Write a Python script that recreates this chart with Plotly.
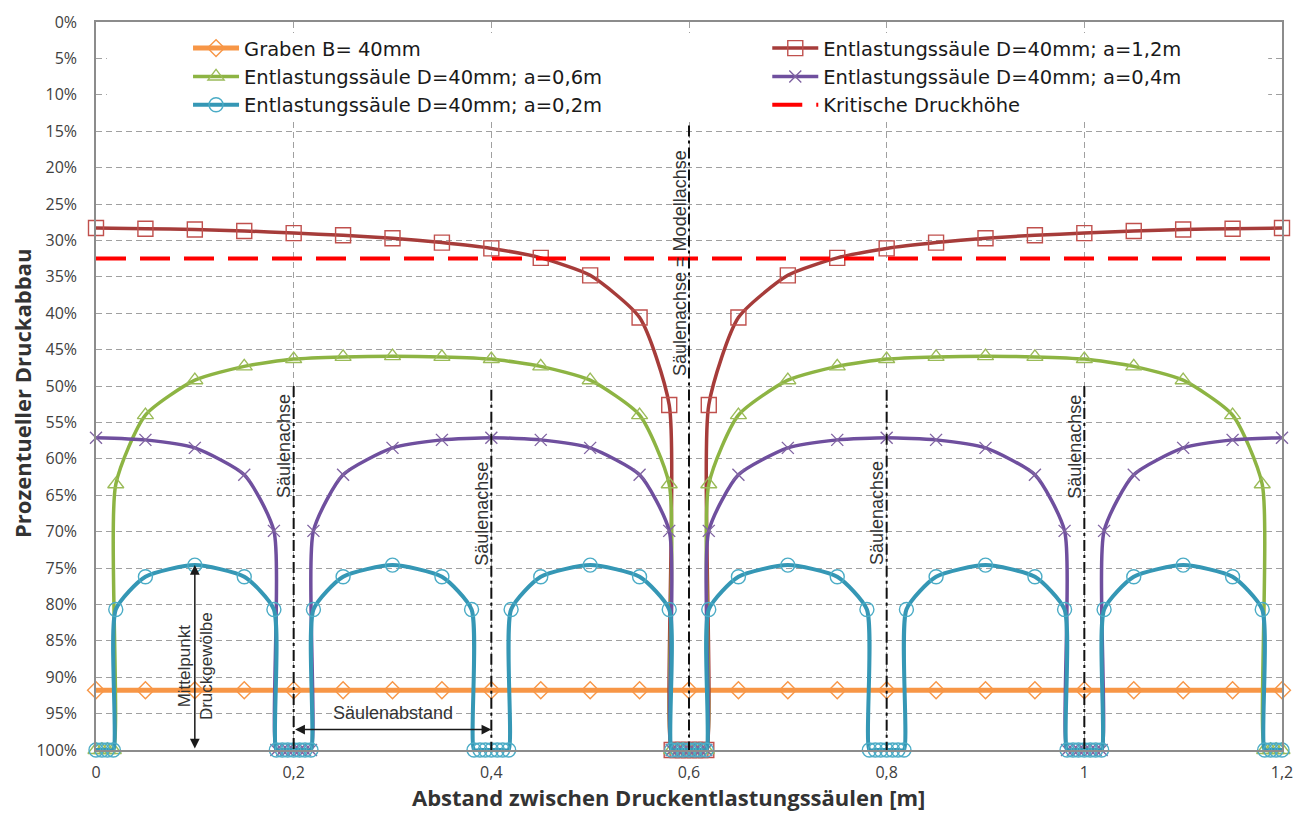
import plotly.graph_objects as go

# Abstand [m] und prozentueller Druckabbau [%] je Messreihe
graben_x = [0, 0.05, 0.1, 0.15, 0.2, 0.25, 0.3, 0.35, 0.4, 0.45, 0.5, 0.55, 0.6,
            0.65, 0.7, 0.75, 0.8, 0.85, 0.9, 0.95, 1.0, 1.05, 1.1, 1.15, 1.2]
graben_y = [91.8, 91.8, 91.8, 91.8, 91.8, 91.8, 91.8, 91.8, 91.8, 91.8, 91.8, 91.8, 91.8,
            91.8, 91.8, 91.8, 91.8, 91.8, 91.8, 91.8, 91.8, 91.8, 91.8, 91.8, 91.8]

a12_x = [0, 0.05, 0.1, 0.15, 0.2, 0.25, 0.3, 0.35, 0.4, 0.45, 0.5, 0.55, 0.58,
         0.5825, 0.5885, 0.594, 0.6, 0.606, 0.6115, 0.6175,
         0.62, 0.65, 0.7, 0.75, 0.8, 0.85, 0.9, 0.95, 1.0, 1.05, 1.1, 1.15, 1.2]
a12_y = [28.3, 28.4, 28.5, 28.7, 29.0, 29.3, 29.7, 30.3, 31.1, 32.4, 34.8, 40.6, 52.6,
         100, 100, 100, 100, 100, 100, 100,
         52.6, 40.6, 34.8, 32.4, 31.1, 30.3, 29.7, 29.3, 29.0, 28.7, 28.5, 28.4, 28.3]

a06_x = [0, 0.006, 0.0115, 0.0175,
         0.02, 0.05, 0.1, 0.15, 0.2, 0.25, 0.3, 0.35, 0.4, 0.45, 0.5, 0.55, 0.58,
         0.5825, 0.5885, 0.594, 0.6, 0.606, 0.6115, 0.6175,
         0.62, 0.65, 0.7, 0.75, 0.8, 0.85, 0.9, 0.95, 1.0, 1.05, 1.1, 1.15, 1.18,
         1.1825, 1.1885, 1.194, 1.2]
a06_y = [100, 100, 100, 100,
         63.5, 54.0, 49.2, 47.3, 46.3, 46.0, 45.9, 46.0, 46.3, 47.3, 49.2, 54.0, 63.5,
         100, 100, 100, 100, 100, 100, 100,
         63.5, 54.0, 49.2, 47.3, 46.3, 46.0, 45.9, 46.0, 46.3, 47.3, 49.2, 54.0, 63.5,
         100, 100, 100, 100]

a04_x = [0, 0.05, 0.1, 0.15, 0.18,
         0.1825, 0.1885, 0.194, 0.2, 0.206, 0.2115, 0.2175,
         0.22, 0.25, 0.3, 0.35, 0.4, 0.45, 0.5, 0.55, 0.58,
         0.5825, 0.5885, 0.594, 0.6, 0.606, 0.6115, 0.6175,
         0.62, 0.65, 0.7, 0.75, 0.8, 0.85, 0.9, 0.95, 0.98,
         0.9825, 0.9885, 0.994, 1.0, 1.006, 1.0115, 1.0175,
         1.02, 1.05, 1.1, 1.15, 1.2]
a04_y = [57.1, 57.4, 58.5, 62.2, 69.9,
         100, 100, 100, 100, 100, 100, 100,
         69.9, 62.2, 58.5, 57.4, 57.1, 57.4, 58.5, 62.2, 69.9,
         100, 100, 100, 100, 100, 100, 100,
         69.9, 62.2, 58.5, 57.4, 57.1, 57.4, 58.5, 62.2, 69.9,
         100, 100, 100, 100, 100, 100, 100,
         69.9, 62.2, 58.5, 57.4, 57.1]

a02_x = [0, 0.006, 0.0115, 0.0175,
         0.02, 0.05, 0.1, 0.15, 0.18,
         0.1825, 0.1885, 0.194, 0.2, 0.206, 0.2115, 0.2175,
         0.22, 0.25, 0.3, 0.35, 0.38,
         0.3825, 0.3885, 0.394, 0.4, 0.406, 0.4115, 0.4175,
         0.42, 0.45, 0.5, 0.55, 0.58,
         0.5825, 0.5885, 0.594, 0.6, 0.606, 0.6115, 0.6175,
         0.62, 0.65, 0.7, 0.75, 0.78,
         0.7825, 0.7885, 0.794, 0.8, 0.806, 0.8115, 0.8175,
         0.82, 0.85, 0.9, 0.95, 0.98,
         0.9825, 0.9885, 0.994, 1.0, 1.006, 1.0115, 1.0175,
         1.02, 1.05, 1.1, 1.15, 1.18,
         1.1825, 1.1885, 1.194, 1.2]
a02_y = [100, 100, 100, 100,
         80.7, 76.2, 74.6, 76.2, 80.7,
         100, 100, 100, 100, 100, 100, 100,
         80.7, 76.2, 74.6, 76.2, 80.7,
         100, 100, 100, 100, 100, 100, 100,
         80.7, 76.2, 74.6, 76.2, 80.7,
         100, 100, 100, 100, 100, 100, 100,
         80.7, 76.2, 74.6, 76.2, 80.7,
         100, 100, 100, 100, 100, 100, 100,
         80.7, 76.2, 74.6, 76.2, 80.7,
         100, 100, 100, 100, 100, 100, 100,
         80.7, 76.2, 74.6, 76.2, 80.7,
         100, 100, 100, 100]

kritisch_x = [0, 1.2]
kritisch_y = [32.5, 32.5]

# Lage der Säulenachsen und Beschriftungshöhen
saeulen_x = [0.2, 0.4, 0.6, 0.8, 1.0]
achse_von = [50.0, 50.5, 14.2, 50.5, 50.0]
achse_text = ["Säulenachse", "Säulenachse", "Säulenachse = Modellachse", "Säulenachse", "Säulenachse"]
achse_text_y = [58.3, 67.5, 33.1, 67.5, 58.3]

x_ticks = [0, 0.2, 0.4, 0.6, 0.8, 1.0, 1.2]
x_ticktext = ["0", "0,2", "0,4", "0,6", "0,8", "1", "1,2"]

names = ["Graben B= 40mm",
         "Entlastungssäule D=40mm; a=1,2m",
         "Entlastungssäule D=40mm; a=0,6m",
         "Entlastungssäule D=40mm; a=0,4m",
         "Entlastungssäule D=40mm; a=0,2m",
         "Kritische Druckhöhe"]

fig = go.Figure()

# linke Legendenspalte: legend, rechte Spalte: legend2
series = [
    (graben_x, graben_y, names[0], "#F79646", "#F79646", "diamond-open", 13, 5, "legend"),
    (a12_x, a12_y, names[1], "#A63C3A", "#C0504D", "square-open", 15, 3.5, "legend2"),
    (a06_x, a06_y, names[2], "#8DB443", "#9BBB59", "triangle-up-open", 14, 3.5, "legend"),
    (a04_x, a04_y, names[3], "#6F4F9E", "#8064A2", "x-thin-open", 12, 3.5, "legend2"),
    (a02_x, a02_y, names[4], "#3597B5", "#4BACC6", "circle-open", 14, 4, "legend"),
]
for xs, ys, nm, lc, mc, sym, ms, lw, lg in series:
    fig.add_trace(go.Scatter(
        x=xs, y=ys, name=nm, mode="lines+markers", legend=lg,
        line=dict(color=lc, width=lw, shape="spline", smoothing=0.6),
        marker=dict(symbol=sym, size=ms, color=mc, line=dict(color=mc, width=1.4)),
        cliponaxis=False,
    ))

fig.add_trace(go.Scatter(
    x=kritisch_x, y=kritisch_y, name=names[5], mode="lines", legend="legend2",
    line=dict(color="#FF0000", width=4, dash="30px,14px"),
))

# weiße Fläche hinter der Legende
fig.add_shape(type="rect", xref="x", yref="y", x0=0.011, x1=1.186, y0=1.5, y1=13.4,
              fillcolor="white", line=dict(width=0), layer="between")

# Säulenachsen als Strich-Punkt-Linien
for sx, y0 in zip(saeulen_x, achse_von):
    fig.add_shape(type="line", xref="x", yref="y", x0=sx, x1=sx, y0=y0, y1=100,
                  line=dict(color="#111111", width=2, dash="11px,4px,3px,4px"))

annotations = []
for sx, txt, ty in zip(saeulen_x, achse_text, achse_text_y):
    annotations.append(dict(x=sx, y=ty, xref="x", yref="y", text=txt, showarrow=False,
                            textangle=-90, xanchor="center", yanchor="middle", xshift=-9,
                            font=dict(family="Liberation Sans", size=18, color="#333333")))

# Maßpfeil Mittelpunkt Druckgewölbe
scheitel = min(a02_y)
annotations.append(dict(x=0.1, y=scheitel, ax=0.1, ay=100, xref="x", yref="y", axref="x", ayref="y",
                        text="", showarrow=True, arrowhead=2, startarrowhead=2, arrowside="end+start",
                        arrowsize=1.3, startarrowsize=1.3, arrowwidth=1.5, arrowcolor="#1a1a1a"))
annotations.append(dict(x=0.1, y=88.5, xref="x", yref="y", text="Mittelpunkt<br>Druckgewölbe",
                        showarrow=False, textangle=-90,
                        font=dict(family="Liberation Sans", size=17, color="#333333")))

# Maßpfeil Säulenabstand
annotations.append(dict(x=saeulen_x[1], y=97.2, ax=saeulen_x[0], ay=97.2, xref="x", yref="y",
                        axref="x", ayref="y", text="", showarrow=True, arrowhead=2, startarrowhead=2,
                        arrowside="end+start", arrowsize=1.3, startarrowsize=1.3, arrowwidth=1.5,
                        arrowcolor="#1a1a1a"))
annotations.append(dict(x=0.3, y=94.9, xref="x", yref="y", text="Säulenabstand", showarrow=False,
                        font=dict(family="Liberation Sans", size=18, color="#333333")))

# Achsentitel
annotations.append(dict(x=0.4831, y=-0.0652, xref="paper", yref="paper", showarrow=False,
                        xanchor="center", yanchor="middle",
                        text="<b>Abstand zwischen Druckentlastungssäulen [m]</b>",
                        font=dict(family="Open Sans", size=22, color="#333333")))
annotations.append(dict(x=-0.0624, y=0.4904, xref="paper", yref="paper", showarrow=False,
                        xanchor="center", yanchor="middle", textangle=-90,
                        text="<b>Prozentueller Druckabbau</b>",
                        font=dict(family="Open Sans", size=22, color="#333333")))

legend_font = dict(family="DejaVu Sans", size=19.5, color="#1a1a1a")
fig.update_layout(
    width=1306, height=813,
    margin=dict(l=96, r=24, t=22, b=63),
    paper_bgcolor="white", plot_bgcolor="white",
    annotations=annotations,
    showlegend=True,
    legend=dict(x=0.0776, y=0.9905, xanchor="left", yanchor="top", bgcolor="rgba(0,0,0,0)",
                font=legend_font, itemwidth=46, tracegroupgap=0),
    legend2=dict(x=0.566, y=0.9905, xanchor="left", yanchor="top", bgcolor="rgba(0,0,0,0)",
                 font=legend_font, itemwidth=46, tracegroupgap=0),
    xaxis=dict(range=[0, 1.2], tickmode="array", tickvals=x_ticks, ticktext=x_ticktext,
               showgrid=True, gridcolor="#A0A0A0", griddash="6px,4px", gridwidth=1,
               showline=True, linecolor="#8C8C8C", linewidth=1.5, mirror=True,
               zeroline=False, ticks="", ticklabelstandoff=7,
               tickfont=dict(family="Open Sans", size=16, color="#404040")),
    yaxis=dict(range=[100, 0], tickmode="linear", tick0=0, dtick=5, ticksuffix="%",
               showgrid=True, gridcolor="#A0A0A0", griddash="6px,4px", gridwidth=1,
               showline=True, linecolor="#8C8C8C", linewidth=1.5, mirror=True,
               zeroline=False, ticks="", ticklabelstandoff=14,
               tickfont=dict(family="Open Sans", size=16, color="#404040")),
)

fig.write_html("out.html")
